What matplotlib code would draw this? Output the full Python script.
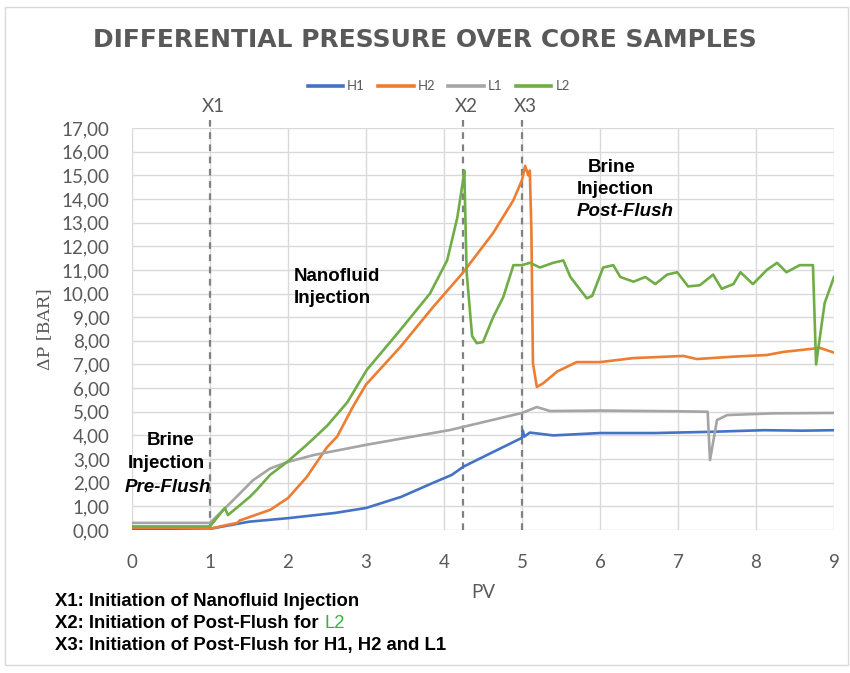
import matplotlib.pyplot as plt
from matplotlib.patches import Rectangle
from matplotlib.ticker import FuncFormatter, MultipleLocator

# values
h1_pv = [0, 0.5, 1.0, 1.25, 1.5, 2.0, 2.6, 3.0, 3.45, 3.85, 4.1, 4.25, 4.6, 5.0, 5.01, 5.03, 5.1,
         5.4, 6.0, 6.7, 7.4, 8.1, 8.6, 9.0]
h1_dp = [0.05, 0.05, 0.05, 0.2, 0.35, 0.5, 0.72, 0.93, 1.4, 1.98, 2.33, 2.68, 3.25, 3.9, 4.2, 3.95, 4.12,
         4.0, 4.1, 4.1, 4.15, 4.22, 4.2, 4.22]

h2_pv = [0, 0.5, 1.0, 1.2, 1.35, 1.38, 1.77, 2.0, 2.24, 2.5, 2.63, 2.83, 3.0, 3.44, 3.86, 4.24, 4.63,
         4.89, 5.0, 5.04, 5.08, 5.1, 5.12, 5.14, 5.19, 5.27, 5.45, 5.7, 6.0, 6.43, 7.07, 7.24, 7.71,
         8.14, 8.35, 8.82, 9.0]
h2_dp = [0.1, 0.1, 0.05, 0.2, 0.3, 0.4, 0.85, 1.35, 2.24, 3.5, 3.95, 5.2, 6.15, 7.74, 9.43, 10.87, 12.56,
         13.95, 14.8, 15.4, 15.0, 15.2, 12.7, 7.05, 6.05, 6.2, 6.7, 7.1, 7.1, 7.27, 7.36, 7.23, 7.33,
         7.4, 7.53, 7.7, 7.5]

l1_pv = [0, 0.5, 1.0, 1.3, 1.55, 1.77, 2.0, 2.33, 3.0, 4.08, 5.0, 5.19, 5.36, 6.0, 7.0, 7.38, 7.41,
         7.5, 7.63, 8.2, 9.0]
l1_dp = [0.3, 0.3, 0.3, 1.27, 2.1, 2.6, 2.88, 3.17, 3.6, 4.23, 4.95, 5.2, 5.03, 5.05, 5.02, 5.0, 2.96,
         4.65, 4.86, 4.93, 4.95]

l2_pv = [0, 0.5, 1.0, 1.19, 1.23, 1.51, 1.6, 1.77, 1.99, 2.24, 2.5, 2.76, 3.01, 3.44, 3.82, 4.04, 4.17,
         4.24, 4.26, 4.29, 4.36, 4.42, 4.5, 4.63, 4.76, 4.89, 5.0, 5.1, 5.23, 5.4, 5.53, 5.62, 5.83,
         5.9, 6.04, 6.17, 6.26, 6.43, 6.58, 6.71, 6.86, 6.99, 7.13, 7.28, 7.45, 7.56, 7.71, 7.8, 7.96,
         8.14, 8.27, 8.39, 8.56, 8.73, 8.77, 8.88, 9.0]
l2_dp = [0.15, 0.15, 0.15, 0.93, 0.63, 1.4, 1.7, 2.33, 2.88, 3.6, 4.4, 5.4, 6.77, 8.46, 10.0, 11.4, 13.2,
         14.7, 15.2, 10.9, 8.2, 7.9, 7.95, 9.0, 9.85, 11.2, 11.2, 11.3, 11.1, 11.3, 11.4, 10.7, 9.8,
         9.9, 11.1, 11.2, 10.7, 10.5, 10.7, 10.4, 10.8, 10.9, 10.3, 10.35, 10.8, 10.2, 10.4, 10.9, 10.4,
         11.0, 11.3, 10.9, 11.2, 11.2, 7.0, 9.6, 10.7]

series = ['H1', 'H2', 'L1', 'L2']
colors = ['#4472C4', '#ED7D31', '#A5A5A5', '#70AD47']

markers_pv = [1.0, 4.24, 5.0]
markers_lab = ['X1', 'X2', 'X3']

fig = plt.figure(figsize=(8.5, 6.73), dpi=100)
ax = fig.add_axes([0.1553, 0.2125, 0.8259, 0.5973])

# light frame round the whole chart
fig.add_artist(Rectangle((0.006, 0.012), 0.992, 0.978, transform=fig.transFigure,
                         fill=False, edgecolor='#d9d9d9', linewidth=1))

data = [(h1_pv, h1_dp), (h2_pv, h2_dp), (l1_pv, l1_dp), (l2_pv, l2_dp)]
for (x, y), name, c in zip(data, series, colors):
    ax.plot(x, y, color=c, linewidth=1.9, label=name)

for xv, lab in zip(markers_pv, markers_lab):
    ax.plot([xv, xv], [0, 17.35], color='#808080', linestyle=(0, (3, 2.5)),
            linewidth=1.6, clip_on=False, zorder=1)
    ax.text(xv + 0.04, 17.55, lab, ha='center', va='bottom', fontsize=13.5, color='#595959',
            family='Lato')

ax.set_xlim(0, 9)
ax.set_ylim(0, 17)
ax.xaxis.set_major_locator(MultipleLocator(1))
ax.yaxis.set_major_locator(MultipleLocator(1))
ax.yaxis.set_major_formatter(FuncFormatter(lambda v, p: f'{v:.2f}'.replace('.', ',')))
ax.grid(True, color='#d9d9d9', linewidth=1)
ax.set_axisbelow(True)
for s in ax.spines.values():
    s.set_visible(False)
ax.tick_params(axis='both', length=0, labelsize=13.5, labelcolor='#595959')
ax.tick_params(axis='x', pad=17)
ax.tick_params(axis='y', pad=16)
for lbl in ax.get_xticklabels() + ax.get_yticklabels():
    lbl.set_family('Lato')

ax.set_xlabel('PV', fontsize=13.5, color='#595959', family='Lato', labelpad=10)
ax.set_ylabel('ΔP [BAR]', fontsize=12.5, color='#595959', family='DejaVu Serif', labelpad=6)

fig.text(0.5, 0.94, 'DIFFERENTIAL PRESSURE OVER CORE SAMPLES', ha='center', va='center',
         fontsize=18, fontweight='bold', color='#595959')

leg = fig.legend(loc='center', bbox_to_anchor=(0.516, 0.872), ncol=4, frameon=False,
                 handlelength=2.7, columnspacing=1.0, handletextpad=0.3, labelcolor='#595959',
                 prop={'family': 'Lato', 'size': 9.5})
for h in leg.get_lines():
    h.set_linewidth(2.6)

txt = dict(fontsize=13.5, fontweight='bold', color='black', family='Liberation Sans', va='center')
ax.text(0.49, 3.8, 'Brine', ha='center', **txt)
ax.text(0.44, 2.8, 'Injection', ha='center', **txt)
ax.text(0.46, 1.8, 'Pre-Flush', ha='center', style='italic', **txt)
ax.text(2.08, 10.74, 'Nanofluid', ha='left', **txt)
ax.text(2.08, 9.8, 'Injection', ha='left', **txt)
ax.text(6.15, 15.35, 'Brine', ha='center', **txt)
ax.text(5.7, 14.42, 'Injection', ha='left', **txt)
ax.text(5.7, 13.49, 'Post-Flush', ha='left', style='italic', **txt)

note = dict(fontsize=13.3, fontweight='bold', color='black', family='Liberation Sans')
fig.text(0.065, 0.106, 'X1: Initiation of Nanofluid Injection', ha='left', va='center', **note)
t2 = fig.text(0.065, 0.074, 'X2: Initiation of Post-Flush for ', ha='left', va='center', **note)
ax.annotate('L2', xy=(1, 0), xycoords=t2, ha='left', va='bottom', fontsize=13.3,
            color='#3cb043', family='Liberation Sans', annotation_clip=False)
fig.text(0.065, 0.041, 'X3: Initiation of Post-Flush for H1, H2 and L1', ha='left', va='center', **note)

fig.savefig('out.png', dpi=100)
